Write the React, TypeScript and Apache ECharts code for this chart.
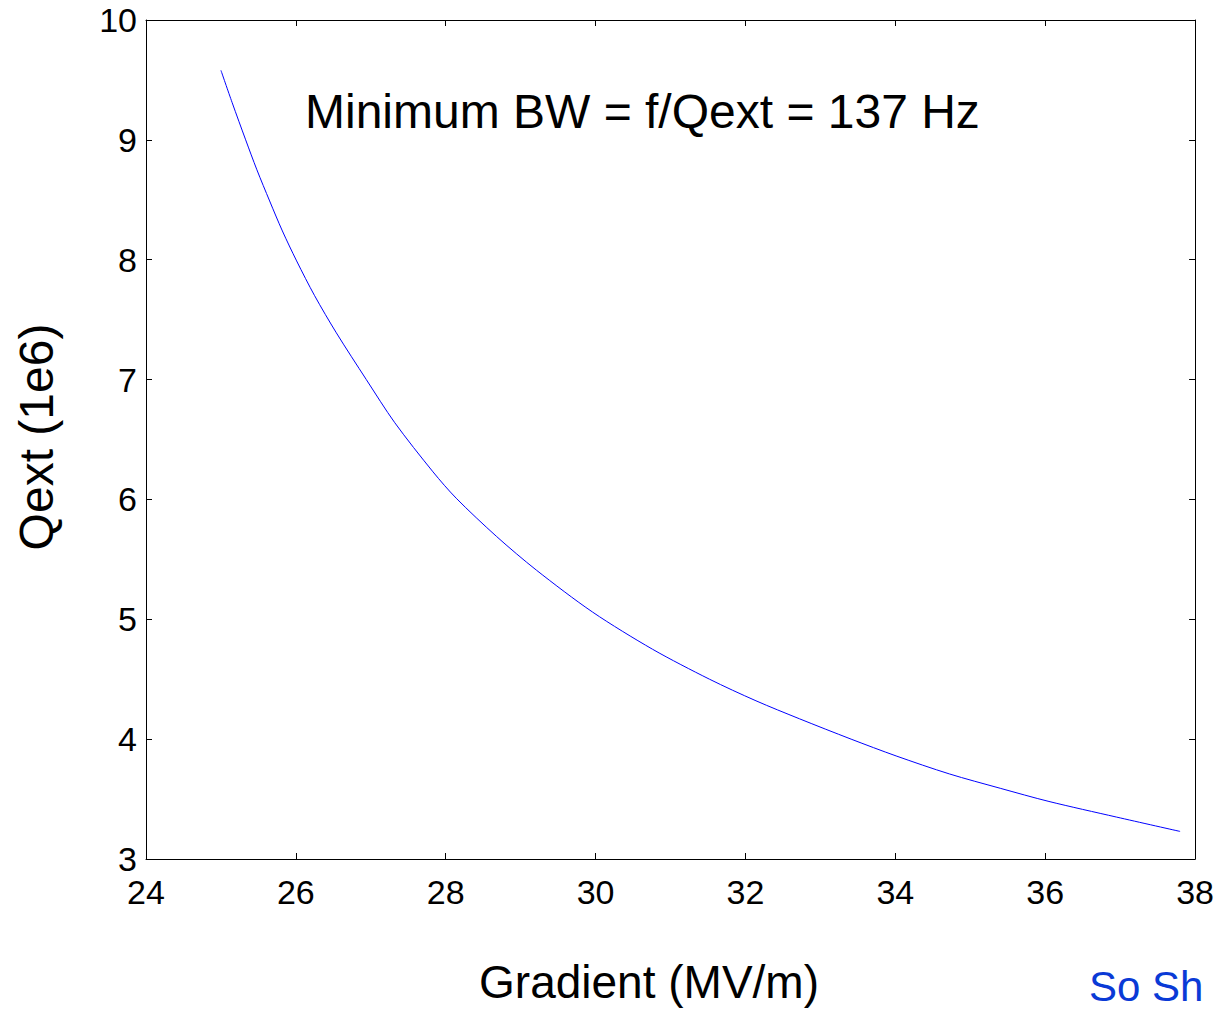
import React, { useEffect, useRef } from "react";
import * as echarts from "echarts";

// Gradient (MV/m)
const gradient = [
  25.0, 25.15, 25.33, 25.48, 25.65, 25.82, 26.01, 26.25, 26.54, 26.94, 27.32,
  27.83, 28.14, 28.68, 29.21, 29.96, 30.76, 31.52, 32.14, 32.72, 33.41, 34.01,
  34.72, 35.4, 36.05, 36.95, 37.8,
];
// Qext (1e6)
const qext = [
  9.58, 9.31, 9.0, 8.75, 8.49, 8.24, 7.99, 7.7, 7.39, 7.0, 6.64,
  6.23, 6.01, 5.69, 5.41, 5.06, 4.75, 4.5, 4.32, 4.17, 4.0, 3.86,
  3.71, 3.59, 3.48, 3.35, 3.23,
];

const xMin = 24;
const xMax = 38;
const xStep = 2;
const yMin = 3;
const yMax = 10;
const yStep = 1;

const annotation = "Minimum BW = f/Qext = 137 Hz";
const xTitle = "Gradient (MV/m)";
const yTitle = "Qext (1e6)";
const signature = "So Sh";

const FONT = "'Liberation Sans', Arial, Helvetica, sans-serif";

export default function App() {
  const ref = useRef<HTMLDivElement>(null);

  useEffect(() => {
    if (!ref.current) return;
    const chart = echarts.init(ref.current, undefined, { renderer: "svg" });
    const tickStyle = { show: true, inside: true, length: 6, lineStyle: { color: "#000", width: 1 } };
    const lineStyle = { show: true, lineStyle: { color: "#000", width: 1 } };
    chart.setOption({
      animation: false,
      backgroundColor: "#fff",
      grid: { left: 146, top: 20, right: 21, bottom: 150, containLabel: false },
      xAxis: [
        {
          type: "value",
          min: xMin,
          max: xMax,
          interval: xStep,
          position: "bottom",
          axisLine: lineStyle,
          axisTick: tickStyle,
          splitLine: { show: false },
          axisLabel: { fontSize: 34, color: "#000", fontFamily: FONT, margin: 16 },
        },
        {
          type: "value",
          min: xMin,
          max: xMax,
          interval: xStep,
          position: "top",
          axisLine: lineStyle,
          axisTick: tickStyle,
          splitLine: { show: false },
          axisLabel: { show: false },
        },
      ],
      yAxis: [
        {
          type: "value",
          min: yMin,
          max: yMax,
          interval: yStep,
          position: "left",
          axisLine: lineStyle,
          axisTick: tickStyle,
          splitLine: { show: false },
          axisLabel: { fontSize: 34, color: "#000", fontFamily: FONT, margin: 9 },
        },
        {
          type: "value",
          min: yMin,
          max: yMax,
          interval: yStep,
          position: "right",
          axisLine: lineStyle,
          axisTick: tickStyle,
          splitLine: { show: false },
          axisLabel: { show: false },
        },
      ],
      series: [
        {
          type: "line",
          xAxisIndex: 0,
          yAxisIndex: 0,
          data: gradient.map((g, i) => [g, qext[i]]),
          showSymbol: false,
          smooth: 0.3,
          lineStyle: { color: "#0000ff", width: 1 },
        },
      ],
      graphic: [
        {
          type: "text",
          x: 305,
          y: 111,
          style: {
            text: annotation,
            fontSize: 48,
            fontFamily: FONT,
            fill: "#000",
            textAlign: "left",
            textVerticalAlign: "middle",
          },
        },
        {
          type: "text",
          x: 649,
          y: 982,
          style: {
            text: xTitle,
            fontSize: 46,
            fontFamily: FONT,
            fill: "#000",
            textAlign: "center",
            textVerticalAlign: "middle",
          },
        },
        {
          type: "text",
          x: 36,
          y: 437,
          rotation: Math.PI / 2,
          style: {
            text: yTitle,
            fontSize: 48,
            fontFamily: FONT,
            fill: "#000",
            textAlign: "center",
            textVerticalAlign: "middle",
          },
        },
        {
          type: "text",
          x: 1089,
          y: 986,
          style: {
            text: signature,
            fontSize: 42,
            fontFamily: FONT,
            fill: "#0a3ad6",
            textAlign: "left",
            textVerticalAlign: "middle",
          },
        },
      ],
    });
    return () => chart.dispose();
  }, []);

  return (
    <div
      ref={ref}
      style={{ position: "absolute", left: 0, top: 0, width: 1217, height: 1009, background: "#fff" }}
    />
  );
}
